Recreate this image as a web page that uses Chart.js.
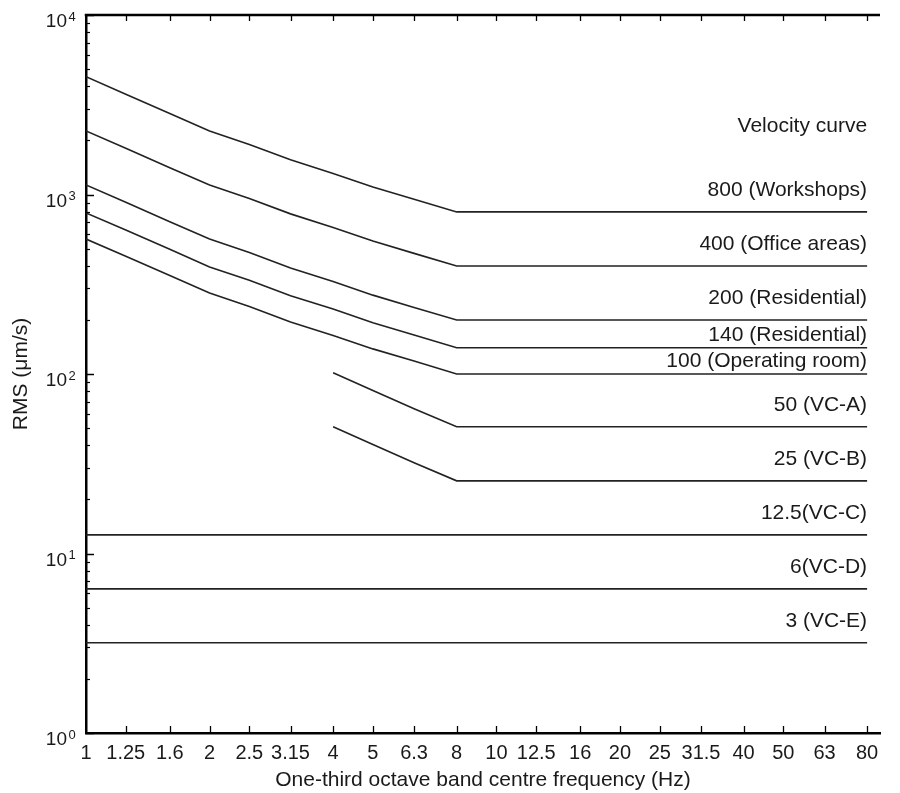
<!DOCTYPE html>
<html lang="en">
<head>
  <meta charset="UTF-8">
  <title>Velocity curves</title>
  <script src="https://cdn.jsdelivr.net/npm/chart.js"></script>
  <style>
    html, body { margin: 0; padding: 0; background: #fff; }
    #wrap { width: 900px; height: 793px; }
  </style>
</head>
<body>
  <div id="wrap"><canvas id="vcChart" width="900" height="793"></canvas></div>

  <script>
    // one-third octave band centre frequencies (Hz)
    const freqs = [1, 1.25, 1.6, 2, 2.5, 3.15, 4, 5, 6.3, 8, 10, 12.5, 16, 20, 25, 31.5, 40, 50, 63, 80];
    const freqLabels = ['1', '1.25', '1.6', '2', '2.5', '3.15', '4', '5', '6.3', '8', '10', '12.5', '16', '20', '25', '31.5', '40', '50', '63', '80'];
    const decadeTicks = [1, 10, 100, 1000, 10000];
    const decadeExp = ['0', '1', '2', '3', '4'];

    // RMS velocity (um/s)
    const workshops = [4530, 3620, 2830, 2260, 1900, 1560, 1310, 1100, 940, 800, 800, 800, 800, 800, 800, 800, 800, 800, 800, 800];
    const offices = [2260, 1810, 1410, 1130, 950, 780, 655, 550, 470, 400, 400, 400, 400, 400, 400, 400, 400, 400, 400, 400];
    const resid200 = [1130, 905, 705, 565, 475, 390, 328, 275, 235, 200, 200, 200, 200, 200, 200, 200, 200, 200, 200, 200];
    const resid140 = [790, 635, 495, 395, 333, 273, 230, 193, 165, 140, 140, 140, 140, 140, 140, 140, 140, 140, 140, 140];
    const operating = [565, 453, 354, 283, 238, 195, 164, 138, 118, 100, 100, 100, 100, 100, 100, 100, 100, 100, 100, 100];
    const vcA = [null, null, null, null, null, null, 101.6, 81, 64, 50.8, 50.8, 50.8, 50.8, 50.8, 50.8, 50.8, 50.8, 50.8, 50.8, 50.8];
    const vcB = [null, null, null, null, null, null, 50.8, 40.5, 32, 25.4, 25.4, 25.4, 25.4, 25.4, 25.4, 25.4, 25.4, 25.4, 25.4, 25.4];
    const vcC = [12.7, 12.7, 12.7, 12.7, 12.7, 12.7, 12.7, 12.7, 12.7, 12.7, 12.7, 12.7, 12.7, 12.7, 12.7, 12.7, 12.7, 12.7, 12.7, 12.7];
    const vcD = [6.35, 6.35, 6.35, 6.35, 6.35, 6.35, 6.35, 6.35, 6.35, 6.35, 6.35, 6.35, 6.35, 6.35, 6.35, 6.35, 6.35, 6.35, 6.35, 6.35];
    const vcE = [3.18, 3.18, 3.18, 3.18, 3.18, 3.18, 3.18, 3.18, 3.18, 3.18, 3.18, 3.18, 3.18, 3.18, 3.18, 3.18, 3.18, 3.18, 3.18, 3.18];

    const seriesList = [workshops, offices, resid200, resid140, operating, vcA, vcB, vcC, vcD, vcE];
    const curveLabels = ['800 (Workshops)', '400 (Office areas)', '200 (Residential)', '140 (Residential)', '100 (Operating room)',
                         '50 (VC-A)', '25 (VC-B)', '12.5(VC-C)', '6(VC-D)', '3 (VC-E)'];
    const headerLabel = 'Velocity curve';

    const FONT = "'Liberation Sans', Arial, Helvetica, sans-serif";
    const INK = '#1a1a1a';

    // frame, inward ticks, y labels with superscripts, curve labels
    const decorPlugin = {
      id: 'decor',
      afterDraw(chart) {
        const ctx = chart.ctx;
        const xs = chart.scales.x, ys = chart.scales.y;
        const a = chart.chartArea;
        ctx.save();
        ctx.strokeStyle = '#000';

        // top frame line
        ctx.lineWidth = 2.5;
        ctx.beginPath();
        ctx.moveTo(a.left - 1.25, a.top);
        ctx.lineTo(a.right, a.top);
        ctx.stroke();

        // x ticks, pointing in from top and bottom
        ctx.lineWidth = 1.3;
        freqs.forEach(f => {
          const px = Math.round(xs.getPixelForValue(f)) + 0.5;
          if (px < a.left + 3) return;
          ctx.beginPath();
          ctx.moveTo(px, a.bottom);
          ctx.lineTo(px, a.bottom - 7);
          ctx.moveTo(px, a.top);
          ctx.lineTo(px, a.top + 6);
          ctx.stroke();
        });

        // y ticks: majors and minors, pointing right
        for (let d = 0; d < decadeTicks.length; d++) {
          const base = decadeTicks[d];
          const py = Math.round(ys.getPixelForValue(base)) + 0.5;
          ctx.lineWidth = 1.5;
          ctx.beginPath();
          ctx.moveTo(a.left, py);
          ctx.lineTo(a.left + 8, py);
          ctx.stroke();
          if (d === decadeTicks.length - 1) break;
          ctx.lineWidth = 1.2;
          for (let m = 2; m <= 9; m++) {
            const my = Math.round(ys.getPixelForValue(base * m)) + 0.5;
            ctx.beginPath();
            ctx.moveTo(a.left, my);
            ctx.lineTo(a.left + 4, my);
            ctx.stroke();
          }
        }

        // y labels 10^n
        ctx.fillStyle = INK;
        ctx.textBaseline = 'alphabetic';
        decadeTicks.forEach((v, i) => {
          const py = ys.getPixelForValue(v);
          ctx.font = '19px ' + FONT;
          ctx.textAlign = 'right';
          ctx.fillText('10', 67, py + 12);
          ctx.font = '13px ' + FONT;
          ctx.textAlign = 'left';
          ctx.fillText(decadeExp[i], 68.5, py + 5.5);
        });

        // curve labels, right aligned at the last band
        const rx = xs.getPixelForValue(freqs[freqs.length - 1]);
        ctx.font = '21px ' + FONT;
        ctx.textAlign = 'right';
        ctx.textBaseline = 'middle';
        curveLabels.forEach((txt, i) => {
          const s = seriesList[i];
          const lineY = ys.getPixelForValue(s[s.length - 1]);
          const gap = (i === 3 || i === 4) ? 13 : 22;
          ctx.fillText(txt, rx, lineY - gap);
        });
        ctx.fillText(headerLabel, rx, ys.getPixelForValue(workshops[workshops.length - 1]) - 86);

        ctx.restore();
      }
    };

    const datasets = seriesList.map((s, i) => ({
      label: curveLabels[i],
      data: freqs.map((f, j) => ({ x: f, y: s[j] })),
      borderColor: '#222',
      borderWidth: 1.6,
      pointRadius: 0,
      tension: 0,
      spanGaps: false,
      fill: false
    }));

    new Chart(document.getElementById('vcChart'), {
      type: 'line',
      data: { datasets: datasets },
      options: {
        responsive: false,
        animation: false,
        events: [],
        layout: { padding: { top: 15, right: 20, left: 0, bottom: 0 } },
        plugins: {
          legend: { display: false },
          tooltip: { enabled: false }
        },
        scales: {
          x: {
            type: 'logarithmic',
            min: 1,
            max: 86,
            afterBuildTicks: s => { s.ticks = freqs.map(v => ({ value: v })); },
            afterFit: s => { s.height = 60; },
            grid: { display: false, drawTicks: false },
            border: { display: true, color: '#000', width: 2.5 },
            ticks: {
              autoSkip: false,
              maxRotation: 0,
              padding: 8,
              color: INK,
              font: { family: FONT, size: 20 },
              callback: (v, i) => freqLabels[i]
            },
            title: {
              display: true,
              text: 'One-third octave band centre frequency (Hz)',
              color: INK,
              font: { family: FONT, size: 21 },
              padding: { top: 0, bottom: 0 }
            }
          },
          y: {
            type: 'logarithmic',
            min: 1,
            max: 10000,
            afterBuildTicks: s => { s.ticks = decadeTicks.map(v => ({ value: v })); },
            afterFit: s => { s.width = 86; },
            grid: { display: false, drawTicks: false },
            border: { display: true, color: '#000', width: 2.5 },
            ticks: { display: false },
            title: {
              display: true,
              text: 'RMS (μm/s)',
              color: INK,
              font: { family: FONT, size: 21 },
              padding: { top: 9, bottom: 0 }
            }
          }
        }
      },
      plugins: [decorPlugin]
    });
  </script>
</body>
</html>
